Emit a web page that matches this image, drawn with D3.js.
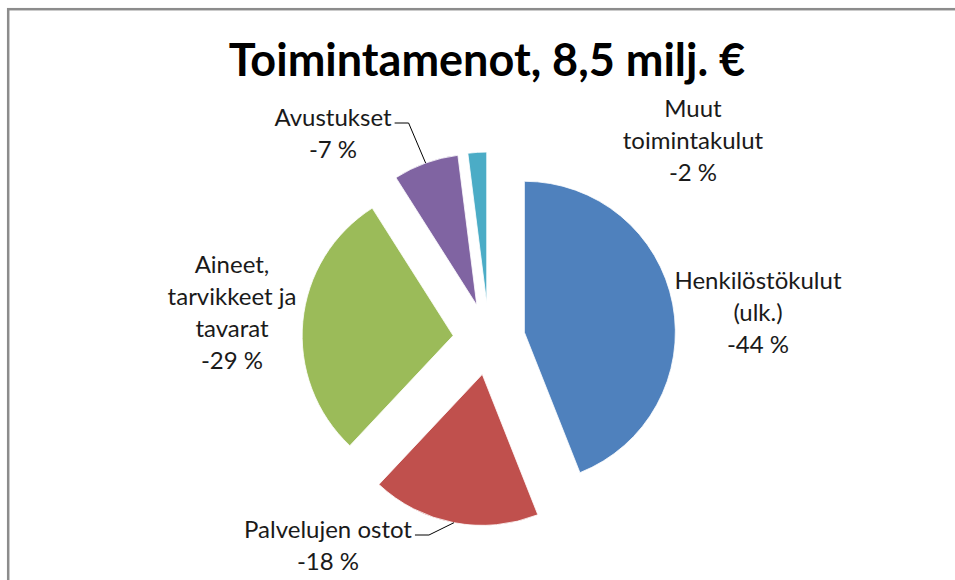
<!DOCTYPE html>
<html>
<head>
<meta charset="utf-8">
<script src="https://cdn.jsdelivr.net/npm/d3@7"></script>
<style>
  body { margin: 0; background: #ffffff; }
  text { font-family: Lato, "Open Sans", sans-serif; fill: #1a1a1a; }
</style>
</head>
<body>
<div id="chart"></div>
<script>
// data
var CATEGORIES = ["Henkilöstökulut (ulk.)", "Palvelujen ostot", "Aineet, tarvikkeet ja tavarat", "Avustukset", "Muut toimintakulut"];
var SHARES = [44, 18, 29, 7, 2];
var LABEL_LINES = [
  ["Henkilöstökulut", "(ulk.)", "-44 %"],
  ["Palvelujen ostot", "-18 %"],
  ["Aineet,", "tarvikkeet ja", "tavarat", "-29 %"],
  ["Avustukset", "-7 %"],
  ["Muut", "toimintakulut", "-2 %"]
];
var COLORS = ["#4f81bd", "#c0504d", "#9bbb59", "#8064a2", "#4bacc6"];
var TITLE = "Toimintamenot, 8,5 milj. €";

// layout
var W = 955, H = 580;
var CX = 489, CY = 339, R = 151, EXPLODE = 36;
var LINE_H = 32;
// label anchor: x centre, baseline of first line, leader line or not
var LABEL_POS = [
  { x: 758, y: 289, leader: false },
  { x: 328, y: 538, leader: true },
  { x: 232, y: 273, leader: false },
  { x: 333, y: 126, leader: true },
  { x: 693, y: 117, leader: false }
];

var svg = d3.select("#chart").append("svg")
  .attr("width", W)
  .attr("height", H);

svg.append("rect")
  .attr("width", W)
  .attr("height", H)
  .style("fill", "#ffffff");

// chart frame, runs off the right and bottom edge
svg.append("rect")
  .attr("x", 8.2)
  .attr("y", 9.2)
  .attr("width", W + 20)
  .attr("height", H + 20)
  .style("fill", "none")
  .style("stroke", "#8c8c8c")
  .style("stroke-width", 2.5);

svg.append("text")
  .attr("x", 487)
  .attr("y", 76)
  .attr("text-anchor", "middle")
  .attr("font-size", 45)
  .attr("font-weight", "bold")
  .style("fill", "#000000")
  .text(TITLE);

var pie = d3.pie().sort(null).value(function(d){ return d; });
var arcs = pie(SHARES);
var arc = d3.arc().innerRadius(0).outerRadius(R);

// offset of every slice along its middle angle
function offset(d){
  var a = (d.startAngle + d.endAngle) / 2;
  return [Math.sin(a) * EXPLODE, -Math.cos(a) * EXPLODE];
}

var slices = svg.selectAll(".slice")
  .data(arcs)
  .enter().append("g")
  .attr("class", "slice")
  .attr("transform", function(d){
    var o = offset(d);
    return "translate(" + (CX + o[0]) + "," + (CY + o[1]) + ")";
  });

slices.append("path")
  .attr("d", arc)
  .style("fill", function(d, i){ return COLORS[i]; })
  .style("stroke", "#ffffff")
  .style("stroke-width", 0.8);

// labels
arcs.forEach(function(d, i){
  var p = LABEL_POS[i];
  var t = svg.append("text")
    .attr("text-anchor", "middle")
    .attr("font-size", 24);
  LABEL_LINES[i].forEach(function(line, j){
    t.append("tspan")
      .attr("x", p.x)
      .attr("y", p.y + j * LINE_H)
      .text(line);
  });

  if (p.leader){
    // leader from end of first line to the middle of the slice arc
    var w = t.select("tspan").node().getComputedTextLength();
    var x0 = p.x + w / 2 + 3, y0 = p.y - 3;
    var a = (d.startAngle + d.endAngle) / 2;
    var o = offset(d);
    var x2 = CX + o[0] + Math.sin(a) * R;
    var y2 = CY + o[1] - Math.cos(a) * R;
    svg.append("path")
      .attr("d", "M" + x0 + "," + y0 + "H" + (x0 + 14) + "L" + x2 + "," + y2)
      .style("fill", "none")
      .style("stroke", "#000000")
      .style("stroke-width", 1);
  }
});
</script>
</body>
</html>
